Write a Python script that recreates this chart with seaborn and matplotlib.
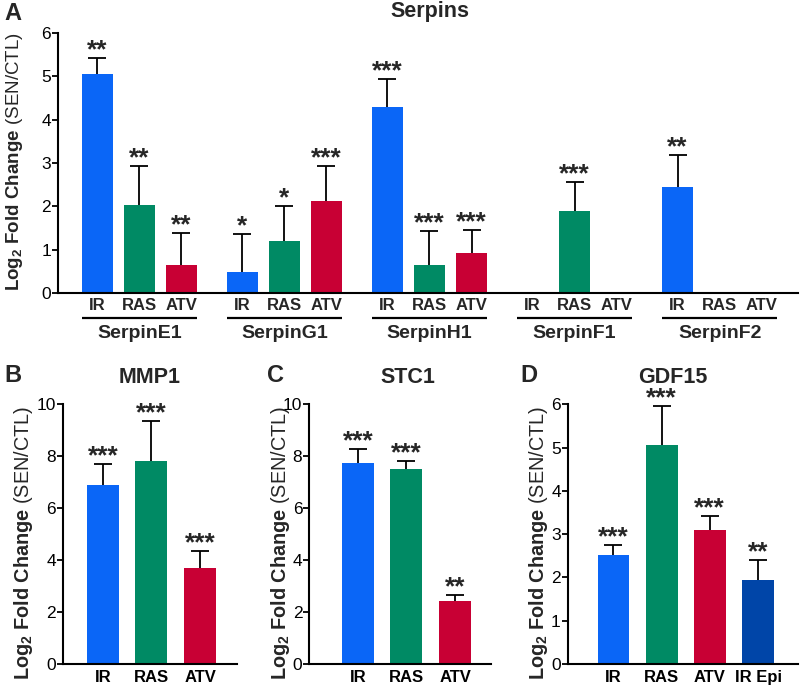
import numpy as np
import pandas as pd
import seaborn as sns
import matplotlib.pyplot as plt
import matplotlib.transforms as mtransforms

# Panel A - Serpins
genes = ["SerpinE1", "SerpinG1", "SerpinH1", "SerpinF1", "SerpinF2"]
conds = ["IR", "RAS", "ATV"]
serpin_gene = ["SerpinE1", "SerpinE1", "SerpinE1",
               "SerpinG1", "SerpinG1", "SerpinG1",
               "SerpinH1", "SerpinH1", "SerpinH1",
               "SerpinF1", "SerpinF2"]
serpin_cond = ["IR", "RAS", "ATV", "IR", "RAS", "ATV", "IR", "RAS", "ATV", "RAS", "IR"]
serpin_mean = [5.05, 2.04, 0.65, 0.49, 1.19, 2.12, 4.30, 0.65, 0.92, 1.89, 2.45]
serpin_err = [0.38, 0.88, 0.73, 0.87, 0.82, 0.80, 0.63, 0.77, 0.53, 0.68, 0.74]
serpin_stars = ["**", "**", "**", "*", "*", "***", "***", "***", "***", "***", "**"]

# Panel B - MMP1
mmp1_cond = ["IR", "RAS", "ATV"]
mmp1_mean = [6.88, 7.79, 3.69]
mmp1_err = [0.82, 1.55, 0.66]
mmp1_stars = ["***", "***", "***"]

# Panel C - STC1
stc1_cond = ["IR", "RAS", "ATV"]
stc1_mean = [7.73, 7.50, 2.44]
stc1_err = [0.54, 0.32, 0.22]
stc1_stars = ["***", "***", "**"]

# Panel D - GDF15
gdf15_cond = ["IR", "RAS", "ATV", "IR Epi"]
gdf15_mean = [2.52, 5.05, 3.10, 1.94]
gdf15_err = [0.23, 0.91, 0.33, 0.46]
gdf15_stars = ["***", "***", "***", "**"]

palette = {"IR": "#0A66F7", "RAS": "#008A64", "ATV": "#C80034", "IR Epi": "#0045A8"}

sns.set_style("ticks")
plt.rcParams["font.family"] = ["Liberation Sans", "DejaVu Sans"]
plt.rcParams.update({
    "mathtext.fontset": "custom",
    "mathtext.rm": "Liberation Sans",
    "mathtext.bf": "Liberation Sans:bold",
    "mathtext.it": "Liberation Sans:italic",
    "axes.linewidth": 1.5,
    "axes.edgecolor": "black",
})

W, H = 800, 687
fig = plt.figure(figsize=(W / 100, H / 100), dpi=100)


def px_axes(left, top, right, bottom):
    return fig.add_axes([left / W, 1 - bottom / H, (right - left) / W, (bottom - top) / H])


def style_axis(ax, ymax, yticks):
    sns.despine(ax=ax)
    ax.set_ylim(0, ymax)
    ax.set_yticks(yticks)
    ax.set_xlabel("")
    ax.set_ylabel("")
    ax.tick_params(axis="y", direction="out", length=4, width=1.3, labelsize=12.5, pad=1, colors="black")


def draw_err_star(ax, cx, mean, err, star):
    # upper error only: drop the lower cap that errorbar draws at the bar top
    _, caps, _ = ax.errorbar(cx, mean, yerr=[[0], [err]], fmt="none", ecolor="black",
                             elinewidth=1.3, capsize=6.3, capthick=1.3)
    caps[0].remove()
    ax.annotate(star, xy=(cx, mean + err), xytext=(0, 0.5), textcoords="offset points",
                ha="center", va="baseline", fontsize=19, fontweight="bold")


ylab = r"$\mathbf{Log_2\ Fold\ Change}$ (SEN/CTL)"

# ---- Panel A
axA = px_axes(58, 33, 798, 293)
dfA = pd.DataFrame({"gene": serpin_gene, "cond": serpin_cond, "mean": serpin_mean,
                    "err": serpin_err, "stars": serpin_stars})
sns.barplot(data=dfA, x="gene", y="mean", hue="cond", order=genes, hue_order=conds,
            palette=palette, width=0.87, gap=0.26, errorbar=None, saturation=1,
            legend=False, linewidth=0, ax=axA)
style_axis(axA, 6, range(7))
axA.set_xlim(-0.56, 4.54)
axA.set_xticks([])

offset = {}
barw = 0
for p in axA.patches:
    cx = p.get_x() + p.get_width() / 2
    h = p.get_height()
    if np.isnan(h):
        continue
    gi = int(round(cx))
    sub = dfA[dfA["gene"] == genes[gi]]
    row = sub.iloc[np.argmin(np.abs(sub["mean"].values - h))]
    offset[row["cond"]] = cx - gi
    barw = p.get_width()
    draw_err_star(axA, cx, row["mean"], row["err"], row["stars"])

trans = mtransforms.blended_transform_factory(axA.transData, axA.transAxes)
axh = 260
for gi, g in enumerate(genes):
    for c in conds:
        axA.text(gi + offset[c], -12 / axh, c, transform=trans, ha="center", va="center",
                 fontsize=12, fontweight="bold")
    axA.plot([gi + offset["IR"] - barw / 2, gi + offset["ATV"] + barw / 2], [-25 / axh] * 2,
             transform=trans, color="black", lw=1.6, clip_on=False, solid_capstyle="butt")
    axA.text(gi, -40 / axh, g, transform=trans, ha="center", va="center",
             fontsize=14, fontweight="bold")

fig.text(15 / W, 1 - 162 / H, ylab, rotation=90, ha="center", va="center", fontsize=13.5)
fig.text(430 / W, 1 - 12 / H, "Serpins", ha="center", va="center", fontsize=15.5, fontweight="bold")
fig.text(13 / W, 1 - 13 / H, "A", ha="center", va="center", fontsize=17, fontweight="bold")


# ---- Panels B, C, D
def single_panel(box, cond, mean, err, stars, ymax, yticks, xlim, title, title_x, letter, letter_x, ylab_x):
    ax = px_axes(*box)
    df = pd.DataFrame({"cond": cond, "mean": mean})
    sns.barplot(data=df, x="cond", y="mean", hue="cond", order=cond, hue_order=cond,
                palette=palette, width=0.66, errorbar=None, saturation=1,
                legend=False, linewidth=0, ax=ax)
    style_axis(ax, ymax, yticks)
    ax.set_xlim(*xlim)
    ax.tick_params(axis="x", length=0, pad=4, labelsize=12, colors="black")
    for lab in ax.get_xticklabels():
        lab.set_fontweight("bold")
    for p in ax.patches:
        cx = p.get_x() + p.get_width() / 2
        i = int(round(cx))
        draw_err_star(ax, cx, mean[i], err[i], stars[i])
    fig.text(ylab_x / W, 1 - 543 / H, ylab, rotation=90, ha="center", va="center", fontsize=14.3)
    fig.text(title_x / W, 1 - 378 / H, title, ha="center", va="center", fontsize=15.5, fontweight="bold")
    fig.text(letter_x / W, 1 - 376 / H, letter, ha="center", va="center", fontsize=17, fontweight="bold")
    return ax


single_panel((63, 404, 237, 664), mmp1_cond, mmp1_mean, mmp1_err, mmp1_stars,
             10, range(0, 11, 2), (-0.82, 2.76), "MMP1", 150, "B", 13, 24)
single_panel((309.3, 404, 491, 664), stc1_cond, stc1_mean, stc1_err, stc1_stars,
             10, range(0, 11, 2), (-1.0, 2.74), "STC1", 408, "C", 276, 280)
single_panel((567.7, 404.3, 798, 664), gdf15_cond, gdf15_mean, gdf15_err, gdf15_stars,
             6, range(7), (-0.95, 3.83), "GDF15", 673, "D", 529, 539)

fig.savefig("out.png", dpi=100)
